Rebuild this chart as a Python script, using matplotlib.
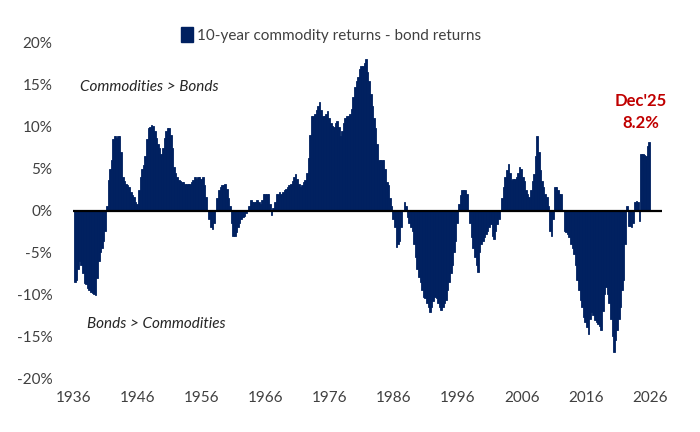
import numpy as np
import matplotlib
matplotlib.use("Agg")
import matplotlib.pyplot as plt
from matplotlib.patches import Patch

# Quarterly readings (% , 10-year commodity returns minus bond returns), Q1 1936 .. Q4 2025
vals_1936_1945 = [
    -8.5, -8.3, -7.0, -6.0,   # 1936
    -6.5, -7.5, -8.7, -8.8,   # 1937
    -9.2, -9.5, -9.7, -9.9,   # 1938
    -10.0, -10.1, -8.0, -6.0, # 1939
    -5.0, -4.5, -3.6, -2.5,   # 1940
    0.5, 3.6, 5.0, 6.0,       # 1941
    8.5, 8.9, 8.6, 8.9,       # 1942
    8.9, 7.0, 4.0, 3.5,       # 1943
    3.2, 3.0, 2.8, 2.2,       # 1944
    1.8, 1.6, 1.0, 0.8,       # 1945
]
vals_1946_1955 = [
    2.5, 4.0, 5.0, 5.4,
    6.5, 8.5, 9.8, 10.0,
    10.2, 10.1, 9.5, 8.7,
    8.0, 7.5, 6.8, 7.5,
    8.7, 9.5, 9.9, 9.8,
    9.0, 7.5, 5.2, 4.5,
    4.0, 3.6, 3.5, 3.4,
    3.4, 3.2, 3.2, 3.2,
    3.2, 3.4, 3.6, 4.0,
    3.8, 4.0, 4.0, 3.8,
]
vals_1956_1965 = [
    4.0, 3.0, 1.6, 0.0,
    -1.0, -2.0, -2.2, -1.5,
    0.0, 1.5, 2.5, 2.8,
    3.0, 3.0, 3.2, 2.6,
    1.5, 0.5, -1.5, -3.0,
    -3.0, -2.6, -2.0, -1.5,
    -1.0, -0.8, -0.6, -0.3,
    0.0, 0.5, 1.2, 1.0,
    1.0, 1.0, 1.2, 1.0,
    0.8, 1.2, 2.0, 2.0,
]
vals_1966_1975 = [
    2.0, 2.0, 0.8, -0.5,
    0.3, 1.0, 2.0, 2.0,
    2.2, 2.0, 2.2, 2.4,
    2.6, 2.8, 3.0, 3.2,
    3.5, 4.0, 4.4, 3.8,
    3.2, 2.8, 3.0, 3.4,
    3.6, 4.5, 6.3, 9.0,
    11.3, 11.3, 11.5, 12.0,
    12.5, 12.9, 12.0, 11.3,
    11.3, 11.5, 11.9, 11.0,
]
vals_1976_1985 = [
    10.5, 10.1, 10.0, 10.5,
    10.7, 10.0, 8.9, 9.5,
    10.5, 11.1, 11.3, 11.3,
    11.5, 12.1, 13.5, 14.7,
    15.5, 16.0, 16.9, 17.2,
    17.3, 17.6, 18.1, 16.5,
    15.5, 13.9, 12.5, 11.0,
    9.9, 8.0, 6.0, 6.0,
    6.0, 6.0, 5.0, 3.4,
    3.0, 1.5, 0.5, -1.0,
]
vals_1986_1995 = [
    -2.0, -4.4, -4.0, -3.6,
    -2.0, 0.0, 1.0, 0.5,
    -0.8, -1.5, -2.0, -2.4,
    -4.0, -5.6, -7.0, -7.9,
    -8.5, -9.5, -10.3, -10.5,
    -11.1, -11.5, -12.1, -11.5,
    -10.8, -10.3, -10.5, -11.0,
    -11.5, -11.9, -11.5, -11.0,
    -10.7, -9.5, -8.5, -7.5,
    -6.5, -5.0, -3.6, -1.5,
]
vals_1996_2005 = [
    0.8, 1.8, 2.4, 2.4,
    2.4, 2.0, 0.0, -1.5,
    -3.2, -4.5, -5.6, -6.5,
    -7.3, -5.0, -4.0, -3.6,
    -3.2, -2.8, -2.4, -2.0,
    -1.6, -3.0, -3.4, -2.5,
    -1.6, -1.0, 0.0, 1.5,
    2.8, 4.0, 4.8, 5.6,
    4.5, 3.6, 3.8, 3.8,
    4.0, 4.5, 5.2, 5.0,
]
vals_2006_2015 = [
    4.0, 3.5, 2.5, 2.0,
    1.6, 2.5, 3.5, 4.4,
    6.5, 8.9, 7.0, 4.8,
    3.5, 2.8, 2.0, 1.6,
    0.5, -2.4, -3.0, -1.0,
    2.8, 2.8, 2.4, 2.0,
    2.0, 0.0, -2.4, -2.6,
    -2.8, -3.2, -4.0, -4.5,
    -5.2, -6.5, -8.3, -9.5,
    -10.7, -11.5, -12.7, -13.3,
]
vals_2016_2025 = [
    -13.9, -14.7, -13.0, -12.1,
    -12.5, -13.1, -13.3, -13.5,
    -13.8, -14.3, -12.0, -10.0,
    -9.1, -10.0, -11.1, -13.0,
    -15.0, -16.9, -15.5, -14.3,
    -13.0, -11.5, -9.5, -8.3,
    -4.0, 0.5, -1.8, -1.8,
    -2.0, -1.5, 1.0, 1.1,
    1.0, -1.2, 6.7, 6.7,
    6.6, 6.5, 7.7, 8.2,
]

start_year = 1936
periods_per_year = 4
year_ticks = [1936, 1946, 1956, 1966, 1976, 1986, 1996, 2006, 2016, 2026]
y_ticks = [-20, -15, -10, -5, 0, 5, 10, 15, 20]
legend_label = "10-year commodity returns - bond returns"
last_label = "Dec'25"
last_value = 8.2

values = np.array(vals_1936_1945 + vals_1946_1955 + vals_1956_1965 + vals_1966_1975
                  + vals_1976_1985 + vals_1986_1995 + vals_1996_2005 + vals_2006_2015
                  + vals_2016_2025)
x = start_year + np.arange(len(values)) / periods_per_year

navy = "#002060"
txt = "#404040"
red = "#C00000"

plt.rcParams["font.family"] = ["Lato", "DejaVu Sans"]

fig = plt.figure(figsize=(7.0, 4.32), dpi=100)
ax = fig.add_axes([73 / 700, 54 / 432, (662 - 73) / 700, (378 - 43) / 432])

ax.bar(x, values, width=1 / periods_per_year, align="edge", color=navy,
       edgecolor=navy, linewidth=0.6)
ax.axhline(0, color="black", lw=1.6, zorder=3)

px_per_year = (650 - 74) / 90
ax.set_xlim(1936 - 1 / px_per_year, 2026 + (662 - 650) / px_per_year)
ax.set_ylim(-20, 20)
ax.set_xticks(year_ticks)
ax.set_xticklabels([str(y) for y in year_ticks])
ax.set_yticks(y_ticks)
ax.set_yticklabels([f"{v}%" for v in y_ticks])
ax.tick_params(axis="both", length=0, labelsize=11, colors=txt)
ax.tick_params(axis="y", pad=15)
ax.tick_params(axis="x", pad=9)
for s in ax.spines.values():
    s.set_visible(False)

ax.text(1937.0, 14.7, "Commodities > Bonds", style="italic", fontsize=11,
        color="#262626", va="center", ha="left")
ax.text(1938.0, -13.5, "Bonds > Commodities", style="italic", fontsize=11,
        color="#262626", va="center", ha="left")

ax.text(2024.6, last_value + 4.9, last_label, color=red, fontsize=12,
        fontweight="bold", ha="center", va="center")
ax.text(2024.6, last_value + 2.3, f"{last_value}%", color=red, fontsize=12,
        fontweight="bold", ha="center", va="center")

handle = Patch(facecolor=navy, edgecolor=navy)
fig.legend([handle], [legend_label], loc="center", bbox_to_anchor=(331 / 700, 1 - 35 / 432),
           frameon=False, fontsize=11, handlelength=0.75, handleheight=1.15,
           handletextpad=0.25, labelcolor=txt)

fig.savefig("out.png", dpi=100)
